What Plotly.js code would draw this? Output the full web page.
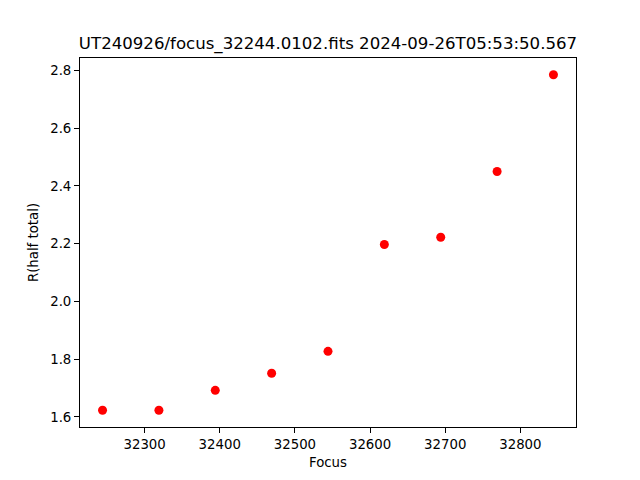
<!DOCTYPE html>
<html>
<head>
<meta charset="utf-8">
<script src="https://cdn.plot.ly/plotly-3.0.1.min.js"></script>
<style>html,body{margin:0;padding:0;background:#fff;}#chart{width:640px;height:480px;}</style>
</head>
<body>
<div id="chart"></div>
<script>
const focusValues = [32244, 32319, 32394, 32469, 32544, 32619, 32694, 32769, 32844];
const radiusValues = [1.623, 1.623, 1.692, 1.751, 1.827, 2.197, 2.222, 2.450, 2.785];
const chartTitle = "UT240926/focus_32244.0102.fits 2024-09-26T05:53:50.567";

const xmin = Math.min(...focusValues), xmax = Math.max(...focusValues);
const ymin = Math.min(...radiusValues), ymax = Math.max(...radiusValues);
const dx = (xmax - xmin) * 0.05, dy = (ymax - ymin) * 0.05;
const font = "DejaVu Sans, sans-serif";

const trace = {
  x: focusValues, y: radiusValues, type: "scatter", mode: "markers",
  marker: {color: "#ff0000", size: 9}, hoverinfo: "none"
};
const axisCommon = {
  showgrid: false, zeroline: false, showline: true, mirror: true,
  linecolor: "#000", linewidth: 1, ticks: "outside", ticklen: 5, tickwidth: 1,
  tickcolor: "#000", tickfont: {family: font, size: 13.3, color: "#000"}
};
const layout = {
  width: 640, height: 480,
  margin: {l: 80, r: 64, t: 57.6, b: 52.8},
  paper_bgcolor: "#fff", plot_bgcolor: "#fff",
  showlegend: false,
  title: {text: chartTitle, font: {family: font, size: 16.6, color: "#000"},
          x: 0.5, xref: "paper", y: 1 - 43/480, yref: "container", yanchor: "middle", xanchor: "center"},
  xaxis: Object.assign({}, axisCommon, {
    range: [xmin - dx, xmax + dx], dtick: 100, tick0: 0, tickformat: "d",
    title: {text: "Focus", font: {family: font, size: 13.3, color: "#000"}, standoff: 6}
  }),
  yaxis: Object.assign({}, axisCommon, {
    range: [ymin - dy, ymax + dy], dtick: 0.2, tick0: 0, tickformat: ".1f",
    title: {text: "R(half total)", font: {family: font, size: 13.3, color: "#000"}, standoff: 8}
  })
};
Plotly.newPlot("chart", [trace], layout, {staticPlot: true, displayModeBar: false});
</script>
</body>
</html>
